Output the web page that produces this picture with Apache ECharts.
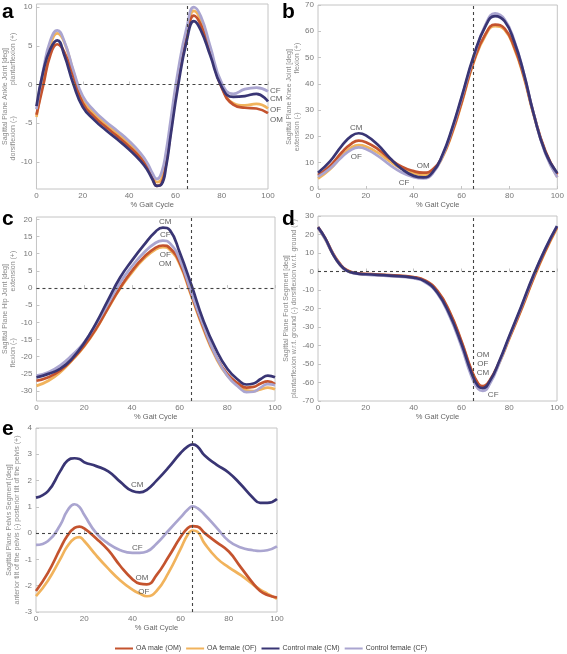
<!DOCTYPE html>
<html><head><meta charset="utf-8">
<script src="https://cdn.jsdelivr.net/npm/echarts@6/dist/echarts.min.js"></script>
<style>html,body{margin:0;padding:0;background:#fff}#c{width:567px;height:654px}</style>
</head><body><div id="c"></div><script>
const groupNames = ['OA male (OM)', 'OA female (OF)', 'Control male (CM)', 'Control female (CF)'];
const groupColors = ['#c4532e', '#f1b35c', '#393574', '#aaa5d0'];
const xTicks = [0, 20, 40, 60, 80, 100];

// Panel a: ankle
const aX  = [0, 3, 6, 9, 12, 16, 20, 25, 30, 35, 40, 45, 48, 50, 52, 54, 56, 58, 61, 65, 68, 71, 75, 80, 85, 90, 95, 100];
const aOM = [-3.9, 0.0, 3.8, 5.2, 4.2, 1.0, -2.4, -4.2, -5.5, -6.7, -8.0, -9.5, -10.8, -12.0, -13.1, -12.8, -10.2, -6.0, 0.2, 6.3, 8.9, 7.7, 4.2, -0.4, -2.6, -3.0, -3.1, -3.7];
const aOF = [-4.2, 0.8, 5.0, 6.6, 5.5, 1.6, -1.9, -3.8, -5.1, -6.3, -7.6, -9.1, -10.4, -11.6, -12.6, -12.2, -9.6, -5.5, 0.8, 6.8, 9.5, 8.3, 4.5, -0.3, -2.4, -2.7, -2.5, -3.1];
const aCM = [-2.8, 1.8, 4.6, 5.7, 3.8, 0.0, -2.9, -4.6, -5.9, -7.1, -8.4, -9.9, -11.1, -12.2, -13.1, -12.9, -10.6, -6.5, -0.5, 5.8, 8.2, 7.0, 3.8, -0.3, -1.6, -1.5, -1.2, -2.2];
const aCF = [-3.2, 2.0, 5.7, 7.0, 5.6, 1.8, -1.5, -3.4, -4.8, -6.0, -7.3, -8.9, -10.2, -11.4, -12.2, -11.4, -8.6, -4.5, 1.5, 7.5, 10.0, 8.8, 5.0, 0.2, -1.2, -0.6, -0.4, -0.9];
const aNotes = [['CF', 100, -0.8], ['CM', 100, -1.9], ['OF', 100, -3.3], ['OM', 100, -4.5]];

// Panel b: knee
const bX  = [0, 5, 10, 14, 17, 20, 25, 30, 35, 40, 44, 48, 52, 56, 60, 65, 70, 74, 78, 82, 86, 90, 95, 100];
const bOM = [5.3, 8.8, 14.0, 17.3, 18.4, 17.8, 15.2, 11.5, 8.5, 6.8, 6.2, 7.5, 12.5, 21.5, 33, 48.5, 59, 62.5, 61, 54, 43, 29, 14.5, 5.5];
const bOF = [4.0, 7.5, 12.6, 15.8, 16.7, 16.2, 13.8, 10.5, 7.7, 6.0, 5.3, 6.8, 12, 21, 32.5, 48, 58.5, 62, 60.5, 53.5, 42.5, 28.5, 14, 4.5];
const bCM = [6.2, 10.5, 16.5, 20.2, 21.2, 20.4, 16.8, 11.8, 7.6, 5.0, 4.4, 6.5, 13, 23, 35, 50.5, 62, 65.8, 63.8, 56, 44, 29, 14, 6];
const bCF = [4.7, 7.8, 12.2, 15.0, 15.8, 15.2, 12.6, 9.2, 6.3, 4.5, 4.0, 6.0, 12.5, 22.5, 34.5, 50, 62.5, 66.8, 64.5, 56.5, 44, 29, 13.5, 4.5];
const bNotes = [['CM', 16, 23.4], ['OF', 16, 12.4], ['OM', 44, 8.9], ['CF', 36, 2.3]];

// Panel c: hip
const cX  = [0, 5, 10, 15, 20, 25, 30, 35, 40, 45, 50, 53, 56, 60, 65, 70, 75, 80, 85, 88, 91, 94, 97, 100];
const cOM = [-27, -26, -24, -20.8, -16.8, -11.8, -5.8, 0, 5, 9, 11.8, 12.4, 11.6, 7.5, -2, -11.5, -19.5, -25, -28, -29, -28.8, -27.8, -27.2, -28];
const cOF = [-28.5, -27, -24.5, -21, -17, -12, -6, -0.2, 4.5, 8.5, 11.3, 11.9, 11.1, 7, -2.5, -12, -20, -25.5, -28.5, -29.8, -30, -29.5, -29, -29.5];
const cCM = [-26, -25, -23.5, -20.5, -16, -10.2, -3.5, 3, 8, 12.5, 16.5, 17.6, 16.8, 10.5, 0.8, -9.5, -17.5, -23.5, -27, -28.1, -27.8, -26.5, -25.5, -26];
const cCF = [-25.5, -24.5, -22.5, -19.5, -15.8, -10.5, -4.5, 1.5, 6.3, 10.3, 13.2, 13.8, 13, 8.5, -1.5, -11, -19.5, -25.5, -29, -30.3, -30.2, -29, -28, -28.3];
const cNotes = [['CM', 54, 19.3], ['CF', 54, 15.6], ['OF', 54, 9.8], ['OM', 54, 7.0]];

// Panel d: foot
const dX  = [0, 3, 6, 9, 12, 16, 20, 30, 40, 45, 50, 55, 60, 64, 67, 69, 72, 76, 80, 85, 90, 95, 100];
const dOM = [24, 18, 10.5, 4.5, 0.8, -0.8, -1.3, -2, -3, -5, -10.5, -21.5, -37.5, -52.5, -60.5, -62, -58.5, -48.5, -36, -20.5, -4, 11, 24];
const dOF = [23.5, 17.5, 10, 4, 0.5, -1, -1.5, -2.2, -3.2, -5.3, -11, -22, -38, -53, -61, -62.5, -59, -49, -36.5, -21, -4.5, 10.5, 23.5];
const dCM = [24, 18, 10, 4, 0.5, -1, -1.5, -2.2, -3.3, -5.5, -11.5, -23, -39, -54, -62, -63, -59, -48, -35, -19, -2.5, 12, 24.5];
const dCF = [23.5, 17.5, 10, 4, 0.3, -1.2, -1.7, -2.5, -3.6, -6, -12, -24, -40.5, -56, -63.5, -64.5, -60.5, -49, -35.5, -19.5, -3, 12, 24.5];
const dNotes = [['OM', 69, -45.1], ['OF', 69, -50], ['CM', 69, -55], ['CF', 73.3, -66.4]];

// Panel e: pelvis
const eX  = [0, 5, 10, 13, 16, 18, 20, 25, 30, 35, 40, 43, 46, 50, 55, 60, 63, 65, 67, 70, 75, 80, 85, 90, 93, 96, 100];
const eOM = [-2.2, -1.5, -0.6, -0.1, 0.2, 0.25, 0.18, -0.2, -0.65, -1.25, -1.75, -1.92, -1.95, -1.6, -0.9, -0.15, 0.2, 0.27, 0.25, 0.0, -0.35, -0.7, -1.3, -1.9, -2.2, -2.35, -2.45];
const eOF = [-2.4, -1.8, -1.0, -0.5, -0.2, -0.15, -0.3, -0.85, -1.35, -1.8, -2.15, -2.3, -2.4, -2.2, -1.5, -0.6, -0.05, 0.1, 0.05, -0.4, -0.95, -1.3, -1.6, -1.95, -2.15, -2.3, -2.5];
const eCM = [1.35, 1.6, 2.35, 2.75, 2.85, 2.82, 2.7, 2.55, 2.35, 1.95, 1.6, 1.55, 1.65, 2.0, 2.5, 3.05, 3.3, 3.38, 3.3, 2.95, 2.6, 2.3, 1.85, 1.35, 1.15, 1.15, 1.3];
const eCF = [-0.45, -0.3, 0.3, 0.85, 1.1, 1.0, 0.7, 0.0, -0.4, -0.65, -0.75, -0.75, -0.7, -0.4, 0.1, 0.6, 0.9, 1.02, 0.95, 0.7, 0.2, -0.3, -0.55, -0.65, -0.68, -0.65, -0.5];
const eNotes = [['CM', 42, 1.83], ['CF', 42, -0.56], ['OM', 44, -1.7], ['OF', 44.7, -2.24]];

const yNames = [
  'Sagittal Plane Ankle Joint [deg]\ndorsiflexion (-)                plantarflexion (+)',
  'Sagittal Plane Knee Joint [deg]\nextension (-)                    flexion (+)',
  'Sagittal Plane Hip Joint [deg]\nflexion (-)                        extension (+)',
  'Sagittal Plane Foot Segment [deg]\nplantarflexion w.r.t. ground (-) dorsiflexion w.r.t. ground (+)',
  'Sagittal Plane Pelvis Segment [deg]\nanterior tilt of the pelvis (-) posterior tilt of the pelvis (+)'
];
const panelLetters = ['a', 'b', 'c', 'd', 'e'];

const FONT = 'Liberation Sans, Arial, sans-serif';
const panels = [
  {x: aX, ys: [aOM, aOF, aCM, aCF], notes: aNotes, ymin: -13.5, ymax: 10.4, split: 5, hz: true, grid: {left: 36, top: 4, width: 232, height: 185}, notePos: 'right'},
  {x: bX, ys: [bOM, bOF, bCM, bCF], notes: bNotes, ymin: 0, ymax: 70, split: 7, hz: false, grid: {left: 318, top: 5, width: 240, height: 184}, notePos: 'inside'},
  {x: cX, ys: [cOM, cOF, cCM, cCF], notes: cNotes, ymin: -32.9, ymax: 20.7, split: 10, hz: true, grid: {left: 36, top: 217, width: 239, height: 184}, notePos: 'inside'},
  {x: dX, ys: [dOM, dOF, dCM, dCF], notes: dNotes, ymin: -70, ymax: 30, split: 10, hz: true, grid: {left: 318, top: 216, width: 239, height: 185}, notePos: 'inside'},
  {x: eX, ys: [eOM, eOF, eCM, eCF], notes: eNotes, ymin: -3, ymax: 4, split: 7, hz: true, grid: {left: 36, top: 428, width: 241, height: 184}, notePos: 'inside'}
];
const letterPos = [[2, 21], [282, 21], [2, 228], [282, 228], [2, 438]];

const grids = [], xAxes = [], yAxes = [], series = [], graphics = [];
const drawOrder = [1, 0, 3, 2];
panels.forEach((p, i) => {
  grids.push(Object.assign({show: true, borderColor: '#c4c4c4', borderWidth: 1, backgroundColor: '#fff'}, p.grid));
  xAxes.push({
    type: 'value', gridIndex: i, min: 0, max: 100, interval: 20,
    name: '% Gait Cycle', nameLocation: 'middle', nameGap: 12,
    nameTextStyle: {fontSize: 7.5, color: '#666', fontFamily: FONT},
    axisLine: {show: false}, splitLine: {show: false},
    axisTick: {show: true, inside: true, length: 3, lineStyle: {color: '#c4c4c4'}},
    axisLabel: {fontSize: 8, color: '#777', margin: 3, fontFamily: FONT}
  });
  yAxes.push({
    type: 'value', gridIndex: i, min: p.ymin, max: p.ymax, splitNumber: p.split,
    name: yNames[i], nameLocation: 'middle', nameRotate: 90, nameGap: i === 3 ? 19 : 14,
    nameTextStyle: {fontSize: 7, color: '#8a8a8a', fontFamily: FONT, lineHeight: 8},
    axisLine: {show: false}, splitLine: {show: false},
    axisTick: {show: true, inside: true, length: 3, lineStyle: {color: '#c4c4c4'}},
    axisLabel: {fontSize: 8, color: '#777', margin: 4, fontFamily: FONT, showMinLabel: p.ymin % 1 === 0, showMaxLabel: p.ymax % 1 === 0}
  });
  drawOrder.forEach((g, k) => {
    const s = {
      name: groupNames[g], type: 'line', xAxisIndex: i, yAxisIndex: i,
      data: p.x.map((xv, j) => [xv, p.ys[g][j]]),
      smooth: 0.5, showSymbol: false, symbol: 'none',
      lineStyle: {color: groupColors[g], width: 2.7}, itemStyle: {color: groupColors[g]},
      z: 3 + k, silent: true
    };
    if (k === 0) {
      const ml = [{xAxis: 65}];
      if (p.hz) ml.push({yAxis: 0});
      s.markLine = {silent: true, symbol: 'none', label: {show: false},
        lineStyle: {type: [3, 3], color: '#444', width: 1.1}, data: ml, z: 10};
    }
    series.push(s);
  });
  series.push({
    type: 'scatter', xAxisIndex: i, yAxisIndex: i, symbolSize: 0, clip: false, silent: true,
    itemStyle: {color: 'rgba(0,0,0,0)'}, z: 20,
    data: p.notes.map(n => ({value: [n[1], n[2]], name: n[0]})),
    label: {show: true, position: p.notePos, distance: 2, formatter: q => q.name,
      fontSize: 8, color: '#333', fontFamily: FONT}
  });
  graphics.push({type: 'text', left: letterPos[i][0], top: letterPos[i][1] - 19,
    style: {text: panelLetters[i], font: 'bold 21px ' + FONT, fill: '#000'}, z: 100});
});

const chart = echarts.init(document.getElementById('c'), null, {renderer: 'canvas'});
chart.setOption({
  animation: false,
  backgroundColor: '#fff',
  grid: grids, xAxis: xAxes, yAxis: yAxes, series: series, graphic: graphics,
  legend: {
    data: groupNames, left: 110, top: 640, itemWidth: 18, itemHeight: 2, itemGap: 5,
    icon: 'rect', textStyle: {fontSize: 7, color: '#444', fontFamily: FONT, padding: [0, 0, 0, -2]}
  }
});
</script></body></html>
